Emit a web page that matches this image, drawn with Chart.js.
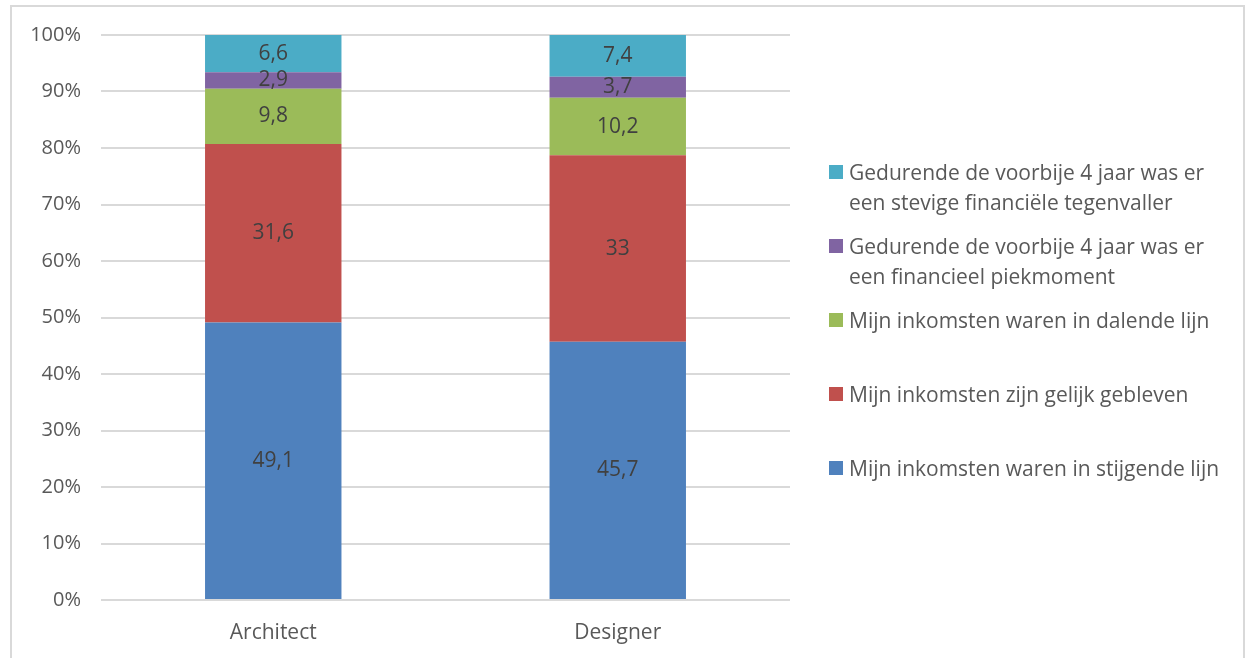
<!DOCTYPE html>
<html>
<head>
<meta charset="utf-8">
<script src="https://cdn.jsdelivr.net/npm/chart.js@4/dist/chart.umd.min.js"></script>
<style>
  html, body { margin: 0; padding: 0; background: #fff; }
  #wrap { position: relative; width: 1248px; height: 658px; overflow: hidden; }
  #frame {
    position: absolute; left: 10px; top: 5px; width: 1235px; height: 670px;
    border: 2px solid #d9d9d9; box-sizing: border-box;
  }
  #chart { position: absolute; left: 0; top: 0; }
  #legend { position: absolute; left: 829px; top: 157px; width: 410px; }
  .item { position: relative; height: 74px; font: 21px "Open Sans", sans-serif; color: #595959; line-height: 30px; }
  .box { position: absolute; left: 0; top: 8px; width: 14px; height: 14px; }
  .txt { position: absolute; left: 20px; top: 0; width: 388px; }
</style>
</head>
<body>
<div id="wrap">
  <div id="frame"></div>
  <canvas id="chart" width="1248" height="658"></canvas>
  <div id="legend"></div>
</div>
<script>
// Chart data
const categories = ['Architect', 'Designer'];
const seriesNames = [
  'Mijn inkomsten waren in stijgende lijn',
  'Mijn inkomsten zijn gelijk gebleven',
  'Mijn inkomsten waren in dalende lijn',
  'Gedurende de voorbije 4 jaar was er een financieel piekmoment',
  'Gedurende de voorbije 4 jaar was er een stevige financiële tegenvaller'
];
const stijgend    = [49.1, 45.7];
const gelijk      = [31.6, 33];
const dalend      = [9.8, 10.2];
const piekmoment  = [2.9, 3.7];
const tegenvaller = [6.6, 7.4];
const seriesColors = ['#4f81bd', '#c0504d', '#9bbb59', '#8064a2', '#4bacc6'];
const yTicks = [0, 10, 20, 30, 40, 50, 60, 70, 80, 90, 100];

const FONT = '"Open Sans", sans-serif';
const allSeries = [stijgend, gelijk, dalend, piekmoment, tegenvaller];

// Value labels in the middle of each segment
const barLabels = {
  id: 'barLabels',
  afterDatasetsDraw(chart) {
    const ctx = chart.ctx;
    ctx.save();
    ctx.font = '21px ' + FONT;
    ctx.fillStyle = '#404040';
    ctx.textAlign = 'center';
    ctx.textBaseline = 'middle';
    chart.data.datasets.forEach((ds, i) => {
      chart.getDatasetMeta(i).data.forEach((bar, j) => {
        const y = (bar.y + bar.base) / 2;
        ctx.fillText(String(ds.data[j]).replace('.', ','), bar.x, y);
      });
    });
    ctx.restore();
  }
};

new Chart(document.getElementById('chart'), {
  type: 'bar',
  data: {
    labels: categories,
    datasets: allSeries.map((vals, i) => ({
      label: seriesNames[i],
      data: vals,
      backgroundColor: seriesColors[i],
      borderWidth: 0,
      categoryPercentage: 1,
      barPercentage: 0.396
    }))
  },
  options: {
    responsive: false,
    animation: false,
    layout: { padding: { left: 0, right: 458, top: 35, bottom: 0 } },
    plugins: { legend: { display: false }, tooltip: { enabled: false } },
    scales: {
      x: {
        stacked: true,
        grid: { display: false },
        border: { display: false },
        ticks: { color: '#595959', font: { family: FONT, size: 21 }, padding: 12 },
        afterFit(axis) { axis.height = 58; }
      },
      y: {
        stacked: true,
        min: 0,
        max: 100,
        afterBuildTicks(axis) { axis.ticks = yTicks.map((v) => ({ value: v })); },
        grid: { color: '#d9d9d9', lineWidth: 2, drawTicks: false },
        border: { display: false },
        ticks: {
          color: '#595959',
          font: { family: FONT, size: 20 },
          padding: 20,
          callback: (v) => v + '%'
        },
        afterFit(axis) { axis.width = 101; }
      }
    }
  },
  plugins: [barLabels]
});

// Legend, top item is the last series
const legend = document.getElementById('legend');
for (let i = seriesNames.length - 1; i >= 0; i--) {
  const item = document.createElement('div');
  item.className = 'item';
  item.innerHTML = '<div class="box" style="background:' + seriesColors[i] + '"></div>' +
    '<div class="txt">' + seriesNames[i] + '</div>';
  legend.appendChild(item);
}
</script>
</body>
</html>
